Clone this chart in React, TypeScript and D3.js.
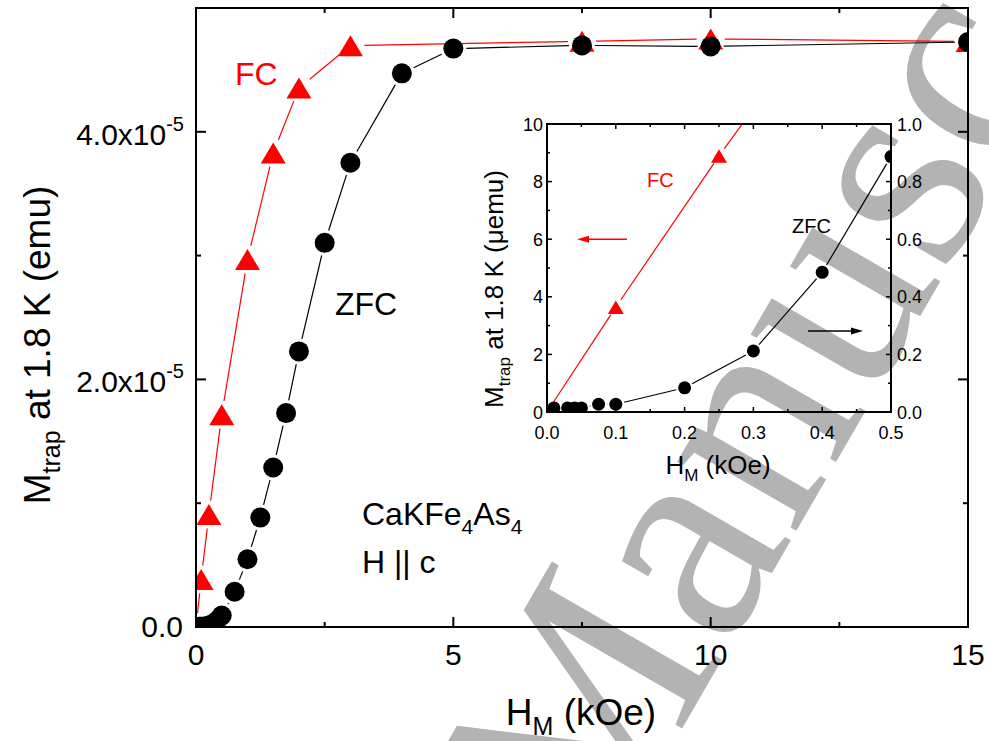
import * as d3 from "d3";

const W = 989;
const H = 741;
const MAIN = { left: 196, right: 968, top: 8, bottom: 627 };
const INSET = { left: 547, right: 891, top: 124, bottom: 412 };
const FONT = "'Liberation Sans', Arial, sans-serif";
const RED = "#ff0000";

// main panel, moment in units of 1e-5 emu
const fcField = [0, 0.1, 0.25, 0.5, 1, 1.5, 2, 3, 7.5, 10, 15];
const fcMoment = [0, 0.384, 0.908, 1.714, 2.968, 3.828, 4.353, 4.696, 4.731, 4.75, 4.73];
const zfcField = [0.01, 0.03, 0.04, 0.05, 0.075, 0.1, 0.2, 0.3, 0.4, 0.5, 0.75, 1, 1.25, 1.5, 1.75, 2, 2.5, 3, 4, 5, 7.5, 10, 15];
const zfcMoment = [0.001, 0.001, 0.001, 0.001, 0.003, 0.003, 0.008, 0.021, 0.048, 0.092, 0.285, 0.547, 0.884, 1.288, 1.728, 2.226, 3.103, 3.75, 4.472, 4.672, 4.698, 4.69, 4.725];

// inset: FC on the left axis (µemu), ZFC on the right axis
const insetFcField = [0, 0.1, 0.25, 0.5];
const insetFcMoment = [0, 3.64, 8.89, 17.1];
const insetZfcField = [0.01, 0.03, 0.04, 0.05, 0.075, 0.1, 0.2, 0.3, 0.4, 0.5];
const insetZfcMoment = [0.014, 0.014, 0.014, 0.014, 0.027, 0.027, 0.084, 0.212, 0.485, 0.887];

// ticks
const mainXTicks = [0, 5, 10, 15];
const mainXMinor = [2.5, 7.5, 12.5];
const mainYTicks = [0, 2, 4];
const mainYMinor = [1, 3, 5];
const mainYLabels = ["0.0", "2.0x10", "4.0x10"];
const insetXTicks = [0, 0.1, 0.2, 0.3, 0.4, 0.5];
const insetXLabels = ["0.0", "0.1", "0.2", "0.3", "0.4", "0.5"];
const insetXMinor = [0.05, 0.15, 0.25, 0.35, 0.45];
const insetLeftTicks = [0, 2, 4, 6, 8, 10];
const insetLeftMinor = [1, 3, 5, 7, 9];
const insetRightTicks = [0, 0.2, 0.4, 0.6, 0.8, 1.0];
const insetRightLabels = ["0.0", "0.2", "0.4", "0.6", "0.8", "1.0"];
const insetRightMinor = [0.1, 0.3, 0.5, 0.7, 0.9];

type Pt = [number, number];

// Origin-style connecting lines: stop short of the symbols
function gapSegments(pts: Pt[], gap: number) {
  const segs: number[][] = [];
  for (let i = 0; i < pts.length - 1; i++) {
    const [x1, y1] = pts[i];
    const [x2, y2] = pts[i + 1];
    const dx = x2 - x1;
    const dy = y2 - y1;
    const len = Math.hypot(dx, dy);
    if (len <= 2 * gap) continue;
    const ux = dx / len;
    const uy = dy / len;
    segs.push([x1 + ux * gap, y1 + uy * gap, x2 - ux * gap, y2 - uy * gap]);
  }
  return segs;
}

const triangle = (w: number, h: number) => `M0,${-h / 2}L${w / 2},${h / 2}L${-w / 2},${h / 2}Z`;

const Series = ({ pts, color, shape, r, gap }: { pts: Pt[]; color: string; shape: "circle" | "tri"; r: number; gap: number }) => (
  <g>
    {gapSegments(pts, gap).map((s, i) => (
      <line key={i} x1={s[0]} y1={s[1]} x2={s[2]} y2={s[3]} stroke={color} strokeWidth={1.2} />
    ))}
    {pts.map(([x, y], i) =>
      shape === "circle" ? (
        <circle key={i} cx={x} cy={y} r={r} fill={color} />
      ) : (
        <path key={i} d={triangle(r * 2.5, r * 2.1)} transform={`translate(${x},${y})`} fill={color} />
      )
    )}
  </g>
);

const Arrow = ({ x1, x2, y, color }: { x1: number; x2: number; y: number; color: string }) => {
  const dir = Math.sign(x2 - x1);
  return (
    <g>
      <line x1={x1} y1={y} x2={x2 - dir * 8} y2={y} stroke={color} strokeWidth={1.5} />
      <path d={`M${x2},${y}L${x2 - dir * 12},${y - 3.5}L${x2 - dir * 12},${y + 3.5}Z`} fill={color} />
    </g>
  );
};

export default function App() {
  const x = d3.scaleLinear().domain([0, 15]).range([MAIN.left, MAIN.right]);
  const y = d3.scaleLinear().domain([0, 5]).range([MAIN.bottom, MAIN.top]);
  const ix = d3.scaleLinear().domain([0, 0.5]).range([INSET.left, INSET.right]);
  const iyL = d3.scaleLinear().domain([0, 10]).range([INSET.bottom, INSET.top]);
  const iyR = d3.scaleLinear().domain([0, 1]).range([INSET.bottom, INSET.top]);

  const fcPts: Pt[] = fcField.map((f, i) => [x(f), y(fcMoment[i])]);
  const zfcPts: Pt[] = zfcField.map((f, i) => [x(f), y(zfcMoment[i])]);
  const iFcPts: Pt[] = insetFcField.map((f, i) => [ix(f), iyL(insetFcMoment[i])]);
  const iZfcPts: Pt[] = insetZfcField.map((f, i) => [ix(f), iyR(insetZfcMoment[i])]);

  const MAJ = 10;
  const MIN = 5;
  const IMAJ = 5;
  const IMIN = 3;

  return (
    <svg width={W} height={H} style={{ position: "absolute", left: 0, top: 0, background: "#fff" }} fontFamily={FONT}>
      <defs>
        <clipPath id="mainClip">
          <rect x={MAIN.left} y={MAIN.top} width={MAIN.right - MAIN.left} height={MAIN.bottom - MAIN.top} />
        </clipPath>
        <clipPath id="insetClip">
          <rect x={INSET.left} y={INSET.top} width={INSET.right - INSET.left} height={INSET.bottom - INSET.top} />
        </clipPath>
      </defs>
      <rect width={W} height={H} fill="#fff" />

      {/* watermark */}
      <text
        transform="translate(593,883) rotate(-60)"
        fontFamily="'Liberation Serif', 'DejaVu Serif', serif"
        fontSize={300}
        fill="#b3b3b3"
      >
        Manuscript
      </text>

      {/* main data */}
      <g clipPath="url(#mainClip)">
        <Series pts={fcPts} color={RED} shape="tri" r={10} gap={14} />
        <Series pts={zfcPts} color="#000" shape="circle" r={10} gap={13} />
      </g>

      {/* main axes */}
      <rect x={MAIN.left} y={MAIN.top} width={MAIN.right - MAIN.left} height={MAIN.bottom - MAIN.top} fill="none" stroke="#000" strokeWidth={2} />
      <g stroke="#000" strokeWidth={2}>
        {mainXTicks.map((t) => (
          <g key={t}>
            <line x1={x(t)} x2={x(t)} y1={MAIN.bottom} y2={MAIN.bottom - MAJ} />
            <line x1={x(t)} x2={x(t)} y1={MAIN.top} y2={MAIN.top + MAJ} />
          </g>
        ))}
        {mainXMinor.map((t) => (
          <g key={t}>
            <line x1={x(t)} x2={x(t)} y1={MAIN.bottom} y2={MAIN.bottom - MIN} />
            <line x1={x(t)} x2={x(t)} y1={MAIN.top} y2={MAIN.top + MIN} />
          </g>
        ))}
        {mainYTicks.map((t) => (
          <g key={t}>
            <line y1={y(t)} y2={y(t)} x1={MAIN.left} x2={MAIN.left + MAJ} />
            <line y1={y(t)} y2={y(t)} x1={MAIN.right} x2={MAIN.right - MAJ} />
          </g>
        ))}
        {mainYMinor.map((t) => (
          <g key={t}>
            <line y1={y(t)} y2={y(t)} x1={MAIN.left} x2={MAIN.left + MIN} />
            <line y1={y(t)} y2={y(t)} x1={MAIN.right} x2={MAIN.right - MIN} />
          </g>
        ))}
      </g>
      <g fontSize={30} fill="#000">
        {mainXTicks.map((t) => (
          <text key={t} x={x(t)} y={665} textAnchor="middle">
            {t}
          </text>
        ))}
        {mainYTicks.map((t, i) =>
          t === 0 ? (
            <text key={t} x={183} y={y(t) + 10} textAnchor="end">
              {mainYLabels[i]}
            </text>
          ) : (
            <text key={t} x={184} y={y(t) + 13} textAnchor="end">
              {mainYLabels[i]}
              <tspan dy={-14} fontSize={20}>
                -5
              </tspan>
            </text>
          )
        )}
      </g>
      <text x={581} y={725} textAnchor="middle" fontSize={37}>
        H<tspan dy={10} fontSize={25}>M</tspan>
        <tspan dy={-10}> (kOe)</tspan>
      </text>
      <text transform="translate(50,345) rotate(-90)" textAnchor="middle" fontSize={37}>
        M<tspan dy={10} fontSize={25}>trap</tspan>
        <tspan dy={-10}> at 1.8 K (emu)</tspan>
      </text>

      {/* main annotations */}
      <text x={235} y={85} fontSize={32} fill={RED}>FC</text>
      <text x={335} y={315} fontSize={32}>ZFC</text>
      <text x={362} y={525} fontSize={32}>
        CaKFe<tspan dy={9} fontSize={21}>4</tspan>
        <tspan dy={-9}>As</tspan>
        <tspan dy={9} fontSize={21}>4</tspan>
      </text>
      <text x={362} y={573} fontSize={32}>H || c</text>

      {/* inset data */}
      <g clipPath="url(#insetClip)">
        <Series pts={iFcPts} color={RED} shape="tri" r={6.4} gap={9} />
        <Series pts={iZfcPts} color="#000" shape="circle" r={6.5} gap={8.5} />
      </g>

      {/* inset axes */}
      <rect x={INSET.left} y={INSET.top} width={INSET.right - INSET.left} height={INSET.bottom - INSET.top} fill="none" stroke="#000" strokeWidth={2} />
      <g stroke="#000" strokeWidth={1.5}>
        {insetXTicks.map((t) => (
          <g key={t}>
            <line x1={ix(t)} x2={ix(t)} y1={INSET.bottom} y2={INSET.bottom - IMAJ} />
            <line x1={ix(t)} x2={ix(t)} y1={INSET.top} y2={INSET.top + IMAJ} />
          </g>
        ))}
        {insetXMinor.map((t) => (
          <g key={t}>
            <line x1={ix(t)} x2={ix(t)} y1={INSET.bottom} y2={INSET.bottom - IMIN} />
            <line x1={ix(t)} x2={ix(t)} y1={INSET.top} y2={INSET.top + IMIN} />
          </g>
        ))}
        {insetLeftTicks.map((t) => (
          <line key={t} y1={iyL(t)} y2={iyL(t)} x1={INSET.left} x2={INSET.left + IMAJ} />
        ))}
        {insetLeftMinor.map((t) => (
          <line key={t} y1={iyL(t)} y2={iyL(t)} x1={INSET.left} x2={INSET.left + IMIN} />
        ))}
        {insetRightTicks.map((t) => (
          <line key={t} y1={iyR(t)} y2={iyR(t)} x1={INSET.right} x2={INSET.right - IMAJ} />
        ))}
        {insetRightMinor.map((t) => (
          <line key={t} y1={iyR(t)} y2={iyR(t)} x1={INSET.right} x2={INSET.right - IMIN} />
        ))}
      </g>
      <g fontSize={18} fill="#000">
        {insetXTicks.map((t, i) => (
          <text key={t} x={ix(t)} y={439} textAnchor="middle">
            {insetXLabels[i]}
          </text>
        ))}
        {insetLeftTicks.map((t) => (
          <text key={t} x={543} y={iyL(t) + 6.5} textAnchor="end">
            {t}
          </text>
        ))}
        {insetRightTicks.map((t, i) => (
          <text key={t} x={897} y={iyR(t) + 6.5}>
            {insetRightLabels[i]}
          </text>
        ))}
      </g>
      <text x={718} y={474} textAnchor="middle" fontSize={26}>
        H<tspan dy={7} fontSize={17}>M</tspan>
        <tspan dy={-7}> (kOe)</tspan>
      </text>
      <text transform="translate(503,289) rotate(-90)" textAnchor="middle" fontSize={26}>
        M<tspan dy={7} fontSize={17}>trap</tspan>
        <tspan dy={-7}> at 1.8 K (μemu)</tspan>
      </text>

      {/* inset annotations */}
      <text x={647} y={187} fontSize={20} fill={RED}>FC</text>
      <text x={792} y={233} fontSize={20}>ZFC</text>
      <Arrow x1={627} x2={577} y={iyL(6)} color={RED} />
      <Arrow x1={808} x2={863} y={331} color="#000" />
    </svg>
  );
}
